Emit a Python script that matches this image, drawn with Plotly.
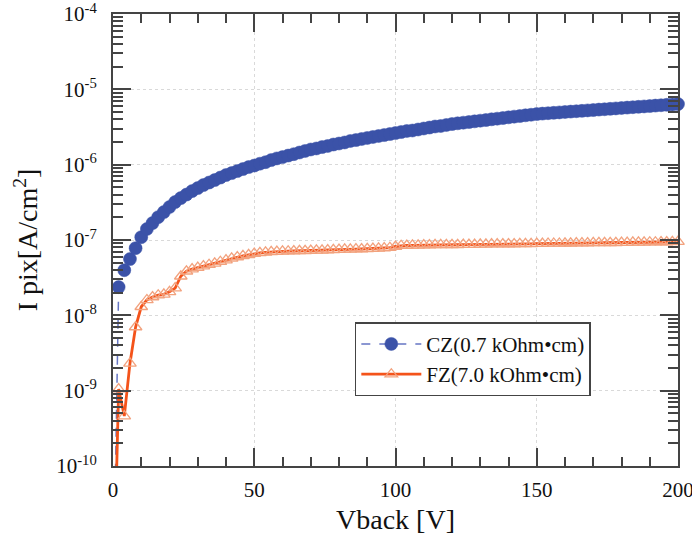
import plotly.graph_objects as go

# Bias voltage (V), sampled every 2 V
vback = list(range(0, 201, 2))

# CZ (0.7 kOhm*cm) pixel current density [A/cm^2]
cz = [1e-12, 2.37e-8, 3.98e-8, 5.58e-8, 7.80e-8, 1.09e-7, 1.40e-7, 1.68e-7, 2.01e-7, 2.35e-7,
      2.74e-7, 3.19e-7, 3.60e-7, 4.01e-7, 4.46e-7, 4.89e-7, 5.36e-7, 5.79e-7, 6.25e-7, 6.74e-7,
      7.28e-7, 7.73e-7, 8.22e-7, 8.74e-7, 9.29e-7, 9.73e-7, 1.03e-6, 1.08e-6, 1.15e-6, 1.21e-6,
      1.26e-6, 1.32e-6, 1.38e-6, 1.45e-6, 1.52e-6, 1.59e-6, 1.64e-6, 1.71e-6, 1.77e-6, 1.85e-6,
      1.91e-6, 1.97e-6, 2.06e-6, 2.12e-6, 2.19e-6, 2.26e-6, 2.33e-6, 2.40e-6, 2.47e-6, 2.55e-6,
      2.63e-6, 2.71e-6, 2.80e-6, 2.84e-6, 2.93e-6, 3.02e-6, 3.11e-6, 3.21e-6, 3.26e-6, 3.36e-6,
      3.46e-6, 3.54e-6, 3.61e-6, 3.68e-6, 3.76e-6, 3.84e-6, 3.91e-6, 4.00e-6, 4.08e-6, 4.16e-6,
      4.25e-6, 4.34e-6, 4.42e-6, 4.52e-6, 4.60e-6, 4.70e-6, 4.76e-6, 4.82e-6, 4.88e-6, 4.94e-6,
      5.00e-6, 5.06e-6, 5.12e-6, 5.18e-6, 5.25e-6, 5.31e-6, 5.38e-6, 5.44e-6, 5.51e-6, 5.58e-6,
      5.65e-6, 5.72e-6, 5.79e-6, 5.86e-6, 5.93e-6, 6.00e-6, 6.08e-6, 6.15e-6, 6.23e-6, 6.30e-6,
      6.38e-6]

# FZ (7.0 kOhm*cm) pixel current density [A/cm^2]
fz = [1e-12, 1.05e-9, 4.6e-10, 2.3e-9, 7.0e-9, 1.3e-8, 1.6e-8, 1.75e-8, 1.85e-8, 1.9e-8,
      2.05e-8, 2.3e-8, 3.3e-8, 3.85e-8, 4.1e-8, 4.3e-8, 4.5e-8, 4.7e-8, 4.9e-8, 5.15e-8,
      5.4e-8, 5.7e-8, 5.95e-8, 6.15e-8, 6.35e-8, 6.6e-8, 6.75e-8, 6.85e-8, 6.95e-8, 7.0e-8,
      7.05e-8, 7.1e-8, 7.15e-8, 7.2e-8, 7.2e-8, 7.25e-8, 7.3e-8, 7.3e-8, 7.35e-8, 7.4e-8,
      7.45e-8, 7.5e-8, 7.5e-8, 7.55e-8, 7.6e-8, 7.65e-8, 7.7e-8, 7.75e-8, 7.8e-8, 7.9e-8,
      8.2e-8, 8.4e-8, 8.45e-8, 8.5e-8, 8.5e-8, 8.55e-8, 8.55e-8, 8.6e-8, 8.6e-8, 8.6e-8,
      8.65e-8, 8.65e-8, 8.7e-8, 8.7e-8, 8.7e-8, 8.75e-8, 8.75e-8, 8.8e-8, 8.8e-8, 8.8e-8,
      8.85e-8, 8.85e-8, 8.9e-8, 8.9e-8, 8.9e-8, 8.95e-8, 8.95e-8, 9.0e-8, 9.0e-8, 9.0e-8,
      9.05e-8, 9.05e-8, 9.1e-8, 9.1e-8, 9.1e-8, 9.15e-8, 9.15e-8, 9.2e-8, 9.2e-8, 9.2e-8,
      9.25e-8, 9.25e-8, 9.3e-8, 9.3e-8, 9.3e-8, 9.35e-8, 9.35e-8, 9.4e-8, 9.4e-8, 9.45e-8,
      9.5e-8]

x_ticks = [0, 50, 100, 150, 200]
x_ticktext = ["0", "50", "100", "150", "200"]
y_tickvals = [1e-10, 1e-9, 1e-8, 1e-7, 1e-6, 1e-5, 1e-4]
y_ticktext = ["10<sup>-10</sup>", "10<sup>-9</sup>", "10<sup>-8</sup>", "10<sup>-7</sup>",
              "10<sup>-6</sup>", "10<sup>-5</sup>", "10<sup>-4</sup>"]

FONT = "Liberation Serif"
AXC = "#444444"
TXT = "#111111"

fig = go.Figure()
fig.add_trace(go.Scatter(
    x=vback, y=cz, mode="lines+markers", name="CZ(0.7 kOhm•cm)",
    line=dict(color="#6676c4", width=1.5, dash="dash"),
    marker=dict(symbol="circle", size=13, color="#3b52a8",
                line=dict(color="#3b52a8", width=0.5)),
    cliponaxis=False,
))
fig.add_trace(go.Scatter(
    x=vback, y=fz, mode="lines+markers", name="FZ(7.0 kOhm•cm)",
    line=dict(color="#f4531a", width=2.8),
    marker=dict(symbol="triangle-up-open", size=11, color="#f2a27e",
                line=dict(color="#f2a27e", width=1.3)),
    cliponaxis=False,
))

fig.update_layout(
    width=692, height=536,
    margin=dict(l=113, r=14, t=14, b=70, autoexpand=False),
    paper_bgcolor="white", plot_bgcolor="white",
    font=dict(family=FONT, color=TXT),
    showlegend=True,
    legend=dict(
        x=0.428, y=0.318, xanchor="left", yanchor="top",
        bgcolor="white", bordercolor="#444444", borderwidth=1.5,
        font=dict(family=FONT, size=21, color=TXT),
        itemwidth=60, tracegroupgap=0,
    ),
)

fig.update_xaxes(
    range=[0, 200], tickmode="array", tickvals=x_ticks, ticktext=x_ticktext,
    ticklabeloverflow="allow", ticklabelstandoff=4, automargin=False,
    showline=True, linecolor=AXC, linewidth=2, mirror="allticks",
    ticks="inside", ticklen=18, tickwidth=1.5, tickcolor=AXC,
    minor=dict(ticks="inside", dtick=10, ticklen=9, tickwidth=1.5, tickcolor=AXC, showgrid=False),
    showgrid=True, gridcolor="#d9d9d9", griddash="dot", gridwidth=1,
    zeroline=False,
    tickfont=dict(family=FONT, size=21, color=TXT),
    title=dict(text="Vback [V]", font=dict(family=FONT, size=28, color=TXT), standoff=8),
)
fig.update_yaxes(
    type="log", range=[-10, -4], tickmode="array", tickvals=y_tickvals, ticktext=y_ticktext,
    ticklabeloverflow="allow", ticklabelstandoff=10, automargin=False,
    showline=True, linecolor=AXC, linewidth=2, mirror="allticks",
    ticks="inside", ticklen=18, tickwidth=1.5, tickcolor=AXC,
    minor=dict(ticks="inside", dtick="D1", ticklen=10, tickwidth=1.5, tickcolor=AXC, showgrid=False),
    showgrid=True, gridcolor="#d9d9d9", griddash="dot", gridwidth=1,
    zeroline=False,
    tickfont=dict(family=FONT, size=21, color=TXT),
    title=dict(text="I pix[A/cm<sup>2</sup>]", font=dict(family=FONT, size=28, color=TXT), standoff=10),
)

fig.write_html("out.html")
